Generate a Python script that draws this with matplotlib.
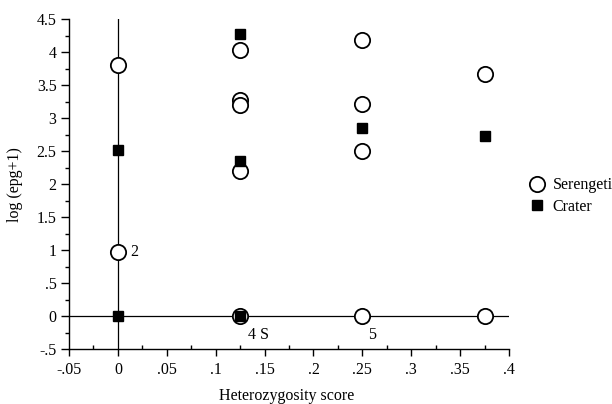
import matplotlib
matplotlib.use("Agg")
import matplotlib.pyplot as plt
from matplotlib.ticker import FuncFormatter, MultipleLocator

ser_x = [0, 0, 0.125, 0.125, 0.125, 0.125, 0.125, 0.25, 0.25, 0.25, 0.25, 0.375, 0.375]
ser_y = [3.80, 0.97, 4.03, 3.27, 3.19, 2.19, 0.0, 4.18, 3.21, 2.50, 0.0, 3.67, 0.0]
cra_x = [0, 0, 0.125, 0.125, 0.125, 0.25, 0.375]
cra_y = [2.52, 0.0, 4.27, 2.35, 0.0, 2.85, 2.72]
annotations = [("2", 0.013, 0.97), ("4 S", 0.144, -0.29), ("5", 0.26, -0.29)]

plt.rcParams['font.family'] = ['Liberation Serif', 'DejaVu Serif']

fig = plt.figure(figsize=(6.12, 4.04), dpi=100)
ax = fig.add_axes([69/612, 55/404, 440/612, 330/404])
ax.set_xlim(-0.05, 0.4)
ax.set_ylim(-0.5, 4.5)

for s in ['top', 'right']:
    ax.spines[s].set_visible(False)
for s in ['left', 'bottom']:
    ax.spines[s].set_linewidth(1.0)

ax.plot([0, 0], [-0.5, 4.5], color='black', lw=0.9, zorder=1)
ax.plot([-0.05, 0.4], [0, 0], color='black', lw=0.9, zorder=1)

ax.plot(ser_x, ser_y, linestyle='none', marker='o', markersize=11,
        markerfacecolor='white', markeredgecolor='black', markeredgewidth=1.3,
        label='Serengeti', zorder=3)
ax.plot(cra_x, cra_y, linestyle='none', marker='s', markersize=7,
        markerfacecolor='black', markeredgecolor='black',
        label='Crater', zorder=4)

for txt, x, y in annotations:
    ax.text(x, y, txt, fontsize=11.5, ha='left' if txt == '2' else 'center', va='center')

def fmt(v, pos):
    if abs(v) < 1e-9:
        return '0'
    s = ('%.3f' % v).rstrip('0').rstrip('.')
    s = s.replace('0.', '.')
    return s

ax.xaxis.set_major_locator(MultipleLocator(0.05))
ax.xaxis.set_minor_locator(MultipleLocator(0.025))
ax.yaxis.set_major_locator(MultipleLocator(0.5))
ax.yaxis.set_minor_locator(MultipleLocator(0.25))
ax.xaxis.set_major_formatter(FuncFormatter(fmt))
ax.yaxis.set_major_formatter(FuncFormatter(fmt))
ax.tick_params(axis='x', which='major', direction='out', length=5, width=1, labelsize=11.5, pad=4)
ax.tick_params(axis='x', which='minor', direction='in', length=3, width=1)
ax.tick_params(axis='y', which='major', direction='out', length=6, width=1, labelsize=11.5, pad=3)
ax.tick_params(axis='y', which='minor', direction='out', length=3, width=1)

fig.text(287/612, 1 - 396/404, 'Heterozygosity score', fontsize=11.5, ha='center', va='center')
fig.text(15/612, 1 - 185/404, 'log (epg+1)', fontsize=11.5, ha='center', va='center', rotation=90)

ax.legend(loc='center left', bbox_to_anchor=(527/612, 1 - 196/404), bbox_transform=fig.transFigure,
          frameon=False, fontsize=11.5, handletextpad=0.4, borderaxespad=0, borderpad=0,
          labelspacing=0.35, handlelength=1.2)

fig.savefig('out.png', dpi=100)
